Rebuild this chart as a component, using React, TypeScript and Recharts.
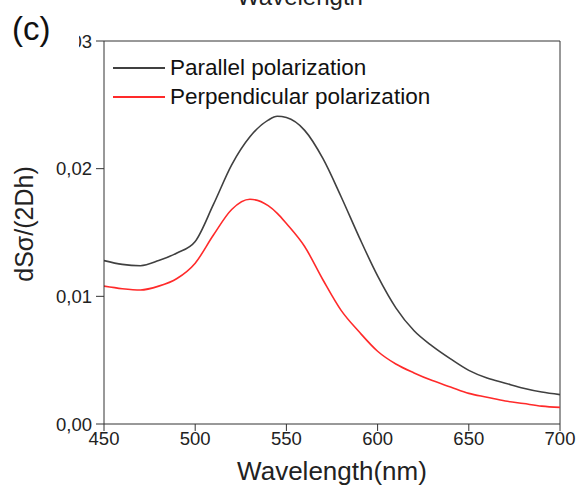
import React from 'react';
import { LineChart, Line, XAxis, YAxis, ReferenceLine } from 'recharts';

const wavelengths = [450, 460, 470, 480, 490, 500, 510, 520, 530, 540, 545, 550, 560, 570, 580, 590, 600, 610, 620, 630, 640, 650, 660, 670, 680, 690, 700];
const parallel = [0.0128, 0.0125, 0.0124, 0.0128, 0.0134, 0.0143, 0.0172, 0.0203, 0.0225, 0.0238, 0.0241, 0.0240, 0.0230, 0.0208, 0.0178, 0.0146, 0.0116, 0.0091, 0.0073, 0.0061, 0.0051, 0.0042, 0.0036, 0.0032, 0.0028, 0.0025, 0.0023];
const perpendicular = [0.0108, 0.0106, 0.0105, 0.0108, 0.0114, 0.0126, 0.0148, 0.0168, 0.0176, 0.0171, 0.0165, 0.0157, 0.0139, 0.0113, 0.0089, 0.0072, 0.0057, 0.0047, 0.0040, 0.0034, 0.0029, 0.0024, 0.0021, 0.0018, 0.0016, 0.0014, 0.0013];
const xTicks = [450, 500, 550, 600, 650, 700];
const yTicks = [0, 0.01, 0.02, 0.03];
const seriesNames = ['Parallel polarization', 'Perpendicular polarization'];
const seriesColors = ['#404040', '#ff2a2a'];

const data = wavelengths.map((wl, i) => ({ wl, par: parallel[i], perp: perpendicular[i] }));

const FONT = '"Liberation Sans", Arial, sans-serif';
const AXIS = '#333';

export default function App() {
  return (
    <div style={{ position: 'absolute', left: 0, top: 0, width: 579, height: 502, background: '#fff', overflow: 'hidden' }}>
      <LineChart width={579} height={502} data={data} margin={{ top: 41, right: 19, bottom: 48, left: 0 }}>
        <XAxis
          dataKey="wl"
          type="number"
          domain={[450, 700]}
          ticks={xTicks}
          height={30}
          stroke={AXIS}
          tickSize={7}
          tickMargin={1}
          tick={{ fontFamily: FONT, fontSize: 18.5, fill: '#222' }}
          allowDataOverflow
        />
        <YAxis
          type="number"
          domain={[0, 0.03]}
          ticks={yTicks}
          width={104}
          stroke={AXIS}
          tickSize={8}
          tickMargin={4}
          tickFormatter={(v: number) => v.toFixed(2).replace('.', ',')}
          tick={{ fontFamily: FONT, fontSize: 18.5, fill: '#222' }}
        />
        <ReferenceLine y={0.03} stroke={AXIS} strokeWidth={1} />
        <ReferenceLine x={700} stroke={AXIS} strokeWidth={1} />
        <Line type="monotone" dataKey="par" name={seriesNames[0]} stroke={seriesColors[0]} strokeWidth={1.6} dot={false} isAnimationActive={false} />
        <Line type="monotone" dataKey="perp" name={seriesNames[1]} stroke={seriesColors[1]} strokeWidth={1.6} dot={false} isAnimationActive={false} />
      </LineChart>
      <div style={{ position: 'absolute', left: 113, top: 53, fontFamily: FONT, fontSize: 22.5, color: '#111' }}>
        {seriesNames.map((n, i) => (
          <div key={n} style={{ display: 'flex', alignItems: 'center', height: 29 }}>
            <div style={{ width: 52, height: 0, borderTop: `2px solid ${seriesColors[i]}`, marginRight: 5 }} />
            <span>{n}</span>
          </div>
        ))}
      </div>
      <div style={{ position: 'absolute', left: 0, top: 0, width: 79, height: 55, background: '#fff' }} />
      <div style={{ position: 'absolute', left: 12, top: 9, fontFamily: FONT, fontSize: 33, color: '#111', lineHeight: '40px' }}>(c)</div>
      <div style={{ position: 'absolute', left: 0, width: 600, top: -18, textAlign: 'center', fontFamily: FONT, fontSize: 24, color: '#222', lineHeight: '30px' }}>Wavelength</div>
      <div style={{ position: 'absolute', left: 222, width: 220, top: 455, textAlign: 'center', fontFamily: FONT, fontSize: 26, color: '#222', lineHeight: '32px' }}>Wavelength(nm)</div>
      <div style={{ position: 'absolute', left: 24, top: 224, width: 0, height: 0 }}>
        <div style={{ position: 'absolute', left: -100, top: -16, width: 200, textAlign: 'center', transform: 'rotate(-90deg)', fontFamily: FONT, fontSize: 25, color: '#222', lineHeight: '32px', whiteSpace: 'nowrap' }}>dSσ/(2Dh)</div>
      </div>
    </div>
  );
}
